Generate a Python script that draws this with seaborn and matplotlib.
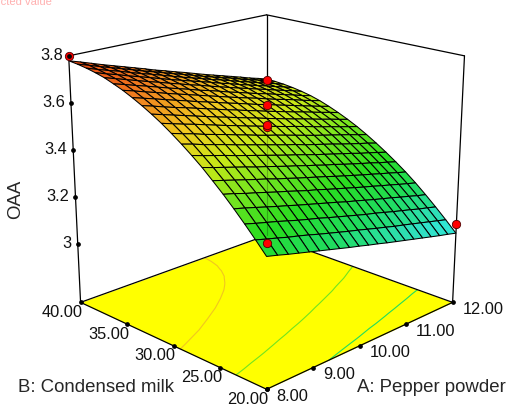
#!/usr/bin/env python3
# -*- coding: utf-8 -*-
"""
Response surface of OAA against pepper powder and condensed milk
"""

import matplotlib
matplotlib.use('Agg')
import matplotlib.pyplot as plt
from matplotlib.lines import Line2D
from mpl_toolkits.mplot3d import proj3d
import numpy as np
import seaborn as sns

# Data
pepper = [8.0, 8.2, 8.4, 8.6, 8.8, 9.0, 9.2, 9.4, 9.6, 9.8, 10.0,
          10.2, 10.4, 10.6, 10.8, 11.0, 11.2, 11.4, 11.6, 11.8, 12.0]
milk = [20, 21, 22, 23, 24, 25, 26, 27, 28, 29, 30,
        31, 32, 33, 34, 35, 36, 37, 38, 39, 40]
# one row per pepper value, one column per milk value
oaa = [
    [3.268, 3.315, 3.360, 3.403, 3.444, 3.482, 3.519, 3.552, 3.583, 3.612, 3.639, 3.663, 3.685, 3.705, 3.723, 3.738, 3.752, 3.762, 3.770, 3.776, 3.780],
    [3.257, 3.303, 3.348, 3.392, 3.433, 3.470, 3.506, 3.539, 3.571, 3.599, 3.626, 3.650, 3.672, 3.692, 3.710, 3.725, 3.738, 3.747, 3.755, 3.762, 3.766],
    [3.245, 3.292, 3.337, 3.380, 3.420, 3.458, 3.494, 3.527, 3.557, 3.587, 3.613, 3.637, 3.658, 3.679, 3.696, 3.711, 3.724, 3.734, 3.741, 3.747, 3.751],
    [3.234, 3.280, 3.326, 3.368, 3.409, 3.446, 3.482, 3.515, 3.545, 3.573, 3.601, 3.624, 3.645, 3.665, 3.683, 3.698, 3.710, 3.719, 3.728, 3.733, 3.736],
    [3.223, 3.270, 3.314, 3.356, 3.397, 3.434, 3.470, 3.502, 3.533, 3.561, 3.588, 3.611, 3.633, 3.652, 3.669, 3.684, 3.696, 3.706, 3.713, 3.719, 3.722],
    [3.212, 3.259, 3.302, 3.345, 3.385, 3.423, 3.457, 3.490, 3.520, 3.549, 3.575, 3.598, 3.620, 3.639, 3.656, 3.670, 3.683, 3.692, 3.699, 3.705, 3.708],
    [3.201, 3.247, 3.291, 3.333, 3.374, 3.410, 3.446, 3.478, 3.508, 3.536, 3.562, 3.585, 3.607, 3.625, 3.643, 3.657, 3.669, 3.678, 3.686, 3.690, 3.694],
    [3.190, 3.236, 3.281, 3.322, 3.362, 3.399, 3.434, 3.466, 3.496, 3.524, 3.550, 3.573, 3.594, 3.613, 3.630, 3.644, 3.656, 3.664, 3.672, 3.677, 3.680],
    [3.179, 3.225, 3.269, 3.311, 3.350, 3.387, 3.422, 3.454, 3.484, 3.511, 3.537, 3.560, 3.581, 3.600, 3.617, 3.630, 3.642, 3.651, 3.658, 3.663, 3.665],
    [3.169, 3.214, 3.258, 3.300, 3.340, 3.376, 3.411, 3.442, 3.472, 3.499, 3.525, 3.548, 3.569, 3.587, 3.604, 3.618, 3.630, 3.638, 3.644, 3.649, 3.652],
    [3.158, 3.204, 3.247, 3.289, 3.328, 3.365, 3.399, 3.431, 3.460, 3.488, 3.513, 3.536, 3.556, 3.575, 3.591, 3.605, 3.616, 3.625, 3.631, 3.636, 3.638],
    [3.148, 3.193, 3.236, 3.277, 3.317, 3.354, 3.388, 3.419, 3.449, 3.476, 3.501, 3.523, 3.544, 3.562, 3.578, 3.591, 3.603, 3.612, 3.618, 3.622, 3.625],
    [3.137, 3.182, 3.225, 3.267, 3.306, 3.342, 3.376, 3.407, 3.436, 3.464, 3.489, 3.511, 3.531, 3.549, 3.566, 3.579, 3.590, 3.598, 3.604, 3.608, 3.611],
    [3.127, 3.172, 3.216, 3.256, 3.295, 3.331, 3.366, 3.396, 3.425, 3.452, 3.478, 3.499, 3.519, 3.538, 3.554, 3.566, 3.577, 3.586, 3.592, 3.595, 3.597],
    [3.117, 3.161, 3.205, 3.245, 3.284, 3.320, 3.354, 3.385, 3.414, 3.440, 3.466, 3.487, 3.507, 3.525, 3.541, 3.553, 3.565, 3.572, 3.579, 3.582, 3.584],
    [3.107, 3.152, 3.194, 3.235, 3.274, 3.309, 3.343, 3.374, 3.403, 3.429, 3.454, 3.476, 3.495, 3.513, 3.528, 3.542, 3.552, 3.560, 3.565, 3.570, 3.571],
    [3.097, 3.142, 3.184, 3.225, 3.263, 3.299, 3.332, 3.363, 3.391, 3.418, 3.442, 3.464, 3.484, 3.501, 3.517, 3.529, 3.540, 3.547, 3.553, 3.556, 3.558],
    [3.087, 3.132, 3.174, 3.214, 3.253, 3.288, 3.322, 3.351, 3.380, 3.407, 3.431, 3.452, 3.472, 3.489, 3.505, 3.517, 3.527, 3.535, 3.540, 3.543, 3.545],
    [3.077, 3.122, 3.163, 3.204, 3.242, 3.278, 3.310, 3.341, 3.369, 3.396, 3.419, 3.441, 3.460, 3.477, 3.492, 3.505, 3.515, 3.522, 3.527, 3.531, 3.531],
    [3.068, 3.112, 3.154, 3.193, 3.232, 3.267, 3.300, 3.330, 3.359, 3.384, 3.408, 3.429, 3.449, 3.465, 3.480, 3.492, 3.503, 3.510, 3.515, 3.517, 3.519],
    [3.058, 3.102, 3.144, 3.184, 3.222, 3.257, 3.289, 3.319, 3.347, 3.373, 3.397, 3.418, 3.437, 3.454, 3.469, 3.481, 3.490, 3.497, 3.502, 3.505, 3.506],
]
design_pepper = [8, 12, 10, 10, 10, 8, 12]
design_milk = [40, 40, 30, 30, 30, 20, 20]
design_oaa = [3.80, 3.50, 3.60, 3.52, 3.51, 3.32, 3.10]
contour_levels = [3.2, 3.4, 3.6]
pepper_ticks = [8, 9, 10, 11, 12]
milk_ticks = [40, 35, 30, 25, 20]
oaa_ticks = [3, 3.2, 3.4, 3.6, 3.8]
oaa_tick_labels = ['3', '3.2', '3.4', '3.6', '3.8']

# Settings
OAA_FLOOR = 2.75
OAA_TOP = 3.8
RAMP = ['#30f0f8', '#30e0c0', '#20dc60', '#28dc20', '#70e420',
        '#c8e818', '#f0c820', '#f08020', '#e84010']

sns.set_style('white')
plt.rcParams['font.family'] = ['Liberation Sans', 'DejaVu Sans']
cmap = sns.blend_palette(RAMP, n_colors=256, as_cmap=True)
norm = plt.Normalize(3.0, 3.8)

# %% Plot

fig = plt.figure(figsize=(5.07, 4.05), dpi=100, facecolor='white')
ax = fig.add_axes([35.5 / 507, -9 / 405, 450 / 507, 450 / 405], projection='3d')
ax.computed_zorder = False
ax.set_proj_type('persp', focal_length=0.56)
ax.view_init(elev=18.9, azim=-135)
ax.set_box_aspect((1.121, 1.121, 1.076))
ax.set_xlim(8, 12, view_margin=0)
ax.set_ylim(20, 40, view_margin=0)
ax.set_zlim(OAA_FLOOR, OAA_TOP, view_margin=0)
ax.set_axis_off()

A, B = np.meshgrid(pepper, milk, indexing='ij')
Z = np.array(oaa)

# Floor with the contours
floor_a, floor_b = np.meshgrid([8, 12], [20, 40], indexing='ij')
ax.plot_surface(floor_a, floor_b, np.full(floor_a.shape, OAA_FLOOR), color='#ffff00',
                shade=False, linewidth=0, zorder=1)
ax.contour(A, B, Z, levels=contour_levels, zdir='z', offset=OAA_FLOOR,
           colors=[cmap(norm(i)) for i in contour_levels], linewidths=0.8, zorder=2)

# Box
box_lines = [([8, 12], [20, 20], [OAA_FLOOR, OAA_FLOOR]), ([8, 8], [20, 40], [OAA_FLOOR, OAA_FLOOR]),
             ([8, 12], [40, 40], [OAA_FLOOR, OAA_FLOOR]), ([12, 12], [20, 40], [OAA_FLOOR, OAA_FLOOR]),
             ([8, 8], [40, 40], [OAA_FLOOR, OAA_TOP]), ([12, 12], [20, 20], [OAA_FLOOR, OAA_TOP]),
             ([12, 12], [40, 40], [OAA_FLOOR, OAA_TOP]),
             ([8, 12], [40, 40], [OAA_TOP, OAA_TOP]), ([12, 12], [20, 40], [OAA_TOP, OAA_TOP])]
for xs, ys, zs in box_lines:
    ax.plot(xs, ys, zs, color='black', linewidth=0.9, zorder=3)

# Surface
ax.plot_surface(A, B, Z, facecolors=cmap(norm(Z)), rstride=1, cstride=1, shade=False,
                edgecolor='black', linewidth=0.75, zorder=4)
ax.plot([12, 12], [40, 40], [OAA_FLOOR, OAA_TOP], color='black', linewidth=0.8, alpha=0.25, zorder=5)

# Design points
ax.scatter(design_pepper, design_milk, design_oaa, color='#ff0000', edgecolors='#500000',
           s=36, linewidths=0.6, depthshade=False, zorder=7)


def axis_ticks(start, stop, vmin, vmax, ticks, labels, dx, dy, ha):
    # tick marks run evenly along the drawn edge of the box
    x0, y0, _ = proj3d.proj_transform(*start, ax.get_proj())
    x1, y1, _ = proj3d.proj_transform(*stop, ax.get_proj())
    for tick, label in zip(ticks, labels):
        frac = (tick - vmin) / (vmax - vmin)
        x2, y2 = x0 + frac * (x1 - x0), y0 + frac * (y1 - y0)
        fig.add_artist(Line2D([x2], [y2], marker='o', markersize=2.4, color='black',
                              transform=ax.transData))
        ax.annotate(label, xy=(x2, y2), xytext=(dx, dy), textcoords='offset pixels', ha=ha,
                    va='center', fontsize=11.8, color='#111111', annotation_clip=False)


axis_ticks((8, 40, OAA_FLOOR), (8, 40, OAA_TOP), OAA_FLOOR, OAA_TOP, oaa_ticks, oaa_tick_labels,
           -6, 0, 'right')
axis_ticks((8, 20, OAA_FLOOR), (8, 40, OAA_FLOOR), 20, 40, milk_ticks,
           ['%.2f' % i for i in milk_ticks], 2, -10, 'right')
axis_ticks((8, 20, OAA_FLOOR), (12, 20, OAA_FLOOR), 8, 12, pepper_ticks,
           ['%.2f' % i for i in pepper_ticks], 10, -7, 'left')

fig.text(16 / 507, 1 - 199 / 405, 'OAA', rotation=90, ha='center', va='center', fontsize=13.4)
fig.text(18 / 507, 1 - 387 / 405, 'B: Condensed milk', ha='left', va='center', fontsize=13.4)
fig.text(357 / 507, 1 - 387 / 405, 'A: Pepper powder', ha='left', va='center', fontsize=13.4)
fig.text(52 / 507, 1 - 5 / 405, 'Design points above predicted value', ha='right', va='baseline',
         fontsize=8, color='#ffb0b0')

plt.savefig('out.png', dpi=100)
